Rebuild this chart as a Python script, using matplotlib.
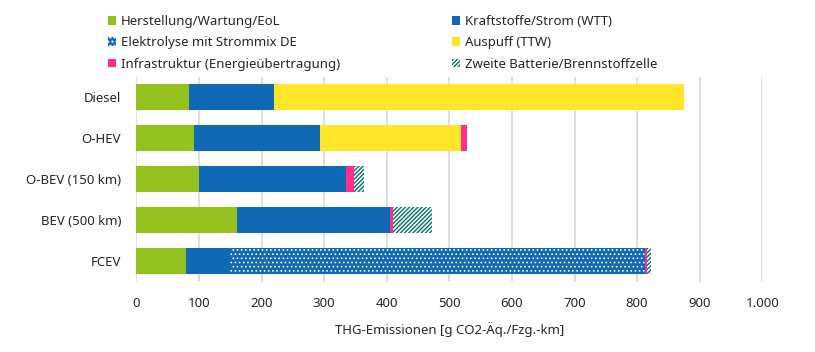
import matplotlib
matplotlib.use("Agg")
import matplotlib.pyplot as plt
from matplotlib.patches import Patch
import numpy as np

plt.rcParams['font.family'] = ['Noto Sans', 'DejaVu Sans']

categories = ["Diesel", "O-HEV", "O-BEV (150 km)", "BEV (500 km)", "FCEV"]
herstellung = [84, 92, 100, 161, 80]
kraftstoffe = [136, 201, 235, 244, 70]
elektrolyse = [0, 0, 0, 0, 663]
auspuff = [655, 226, 0, 0, 0]
infrastruktur = [0, 9, 12, 5, 3]
zweite = [0, 0, 17, 62, 6]

series_labels = ["Herstellung/Wartung/EoL", "Kraftstoffe/Strom (WTT)",
                 "Elektrolyse mit Strommix DE", "Auspuff (TTW)",
                 "Infrastruktur (Energieübertragung)", "Zweite Batterie/Brennstoffzelle"]
xticks = [0, 100, 200, 300, 400, 500, 600, 700, 800, 900, 1000]
xtick_labels = ["0", "100", "200", "300", "400", "500", "600", "700", "800", "900", "1.000"]
xlabel = "THG-Emissionen [g CO2-Äq./Fzg.-km]"

GREEN = "#95C11F"
BLUE = "#0F69B4"
YELLOW = "#FFE62A"
PINK = "#FF2D8C"
TEAL = "#00736B"
TXT = "#262626"

DOT_LW = 0.7
STRIPE_LW = 1.0
DOT_HATCH = "...."
STRIPE_HATCH = "////////"

fig = plt.figure(figsize=(8.15, 3.52), dpi=100)
ax = fig.add_axes([136.3/815, 1-281.5/352, (762.3-136.3)/815, (281.5-76.5)/352])

y = np.arange(len(categories))
h = 0.63
left = np.zeros(len(categories))


def set_hlw(artist, lw):
    if hasattr(artist, "set_hatch_linewidth"):
        try:
            artist.set_hatch_linewidth(lw)
        except Exception:
            pass


styles = [
    (herstellung, dict(color=GREEN), None),
    (kraftstoffe, dict(color=BLUE), None),
    (elektrolyse, dict(facecolor=BLUE, edgecolor="white", hatch=DOT_HATCH, linewidth=0), DOT_LW),
    (auspuff, dict(color=YELLOW), None),
    (infrastruktur, dict(color=PINK), None),
    (zweite, dict(facecolor="white", edgecolor=TEAL, hatch=STRIPE_HATCH, linewidth=0), STRIPE_LW),
]
for vals, st, hlw in styles:
    v = np.array(vals, dtype=float)
    with plt.rc_context({'hatch.linewidth': hlw if hlw else 1.0}):
        bars = ax.barh(y, v, left=left, height=h, zorder=3, **st)
    if hlw:
        for b in bars:
            set_hlw(b, hlw)
    left += v

ax.set_ylim(len(categories)-0.5, -0.5)
ax.set_xlim(0, 1000)
ax.set_yticks(y)
ax.set_yticklabels(categories)
ax.set_xticks(xticks)
ax.set_xticklabels(xtick_labels)
ax.tick_params(axis='both', length=0, labelsize=9.5, colors=TXT)
ax.tick_params(axis='y', pad=11)
ax.tick_params(axis='x', pad=11)
for s in ax.spines.values():
    s.set_visible(False)
ax.grid(axis='x', color="#D9D9D9", linewidth=1.2, zorder=0)
ax.set_axisbelow(True)
ax.set_xlabel(xlabel, fontsize=9.5, color=TXT, labelpad=9)

with plt.rc_context({'hatch.linewidth': DOT_LW}):
    h_dot = Patch(facecolor=BLUE, edgecolor="white", hatch=DOT_HATCH, linewidth=0)
with plt.rc_context({'hatch.linewidth': STRIPE_LW}):
    h_str = Patch(facecolor="white", edgecolor=TEAL, hatch=STRIPE_HATCH, linewidth=0)
set_hlw(h_dot, DOT_LW)
set_hlw(h_str, STRIPE_LW)

handles = [
    Patch(facecolor=GREEN, edgecolor=GREEN, linewidth=0),
    Patch(facecolor=BLUE, edgecolor=BLUE, linewidth=0),
    h_dot,
    Patch(facecolor=YELLOW, edgecolor=YELLOW, linewidth=0),
    Patch(facecolor=PINK, edgecolor=PINK, linewidth=0),
    h_str,
]
col1 = [0, 2, 4]
col2 = [1, 3, 5]
for idx, x0 in ((col1, 108), (col2, 452)):
    leg = fig.legend([handles[i] for i in idx], [series_labels[i] for i in idx],
                     loc="upper left", bbox_to_anchor=(x0/815, 1-15/352),
                     frameon=False, fontsize=9.5, handlelength=0.6, handleheight=0.6,
                     handletextpad=0.35, labelspacing=0.63, borderpad=0, borderaxespad=0)
    for t in leg.get_texts():
        t.set_color(TXT)

fig.savefig("out.png", dpi=100)
